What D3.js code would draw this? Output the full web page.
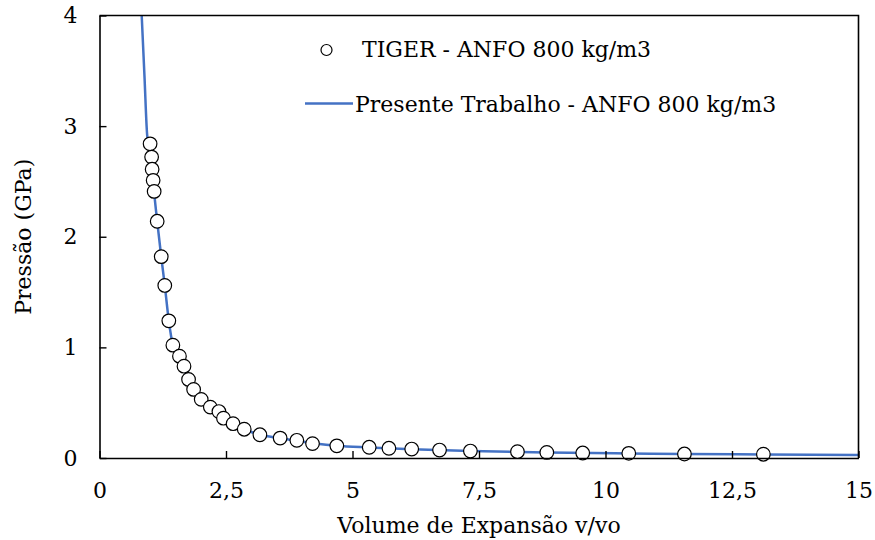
<!DOCTYPE html>
<html>
<head>
<meta charset="utf-8">
<script src="https://cdn.jsdelivr.net/npm/d3@7"></script>
<style>
  html, body { margin: 0; padding: 0; background: #fff; }
  svg { display: block; font-family: "DejaVu Serif", "Liberation Serif", serif; }
</style>
</head>
<body>
<svg id="chart" width="875" height="540"></svg>
<script>
// TIGER reference points: expansion volume v/vo and pressure (GPa)
const tigerV = [1.00, 1.03, 1.04, 1.06, 1.08, 1.14, 1.22, 1.29, 1.37, 1.45,
                1.58, 1.67, 1.76, 1.86, 2.01, 2.19, 2.36, 2.45, 2.64, 2.86,
                3.17, 3.57, 3.90, 4.21, 4.69, 5.33, 5.72, 6.17, 6.72, 7.33,
                8.26, 8.84, 9.55, 10.46, 11.56, 13.12];
const tigerP = [2.84, 2.72, 2.61, 2.51, 2.41, 2.14, 1.82, 1.56, 1.24, 1.02,
                0.92, 0.83, 0.71, 0.62, 0.53, 0.46, 0.42, 0.36, 0.31, 0.26,
                0.21, 0.18, 0.16, 0.13, 0.11, 0.097, 0.088, 0.081, 0.072, 0.063,
                0.057, 0.050, 0.045, 0.042, 0.036, 0.034];

// Curve from the present work
const modelV = [0.834, 0.889, 0.945, 1.00, 1.06, 1.14, 1.22, 1.29, 1.37, 1.45,
                1.58, 1.76, 2.01, 2.36, 2.64, 2.86, 3.17, 3.57, 4.21, 4.69,
                5.33, 6.17, 7.33, 8.84, 10.46, 11.56, 13.12, 15.0];
const modelP = [4.00, 3.45, 2.905, 2.80, 2.49, 2.14, 1.82, 1.56, 1.24, 1.02,
                0.90, 0.71, 0.53, 0.40, 0.31, 0.26, 0.21, 0.18, 0.135, 0.11,
                0.095, 0.080, 0.064, 0.050, 0.041, 0.036, 0.032, 0.027];

const xTicks = [0, 2.5, 5, 7.5, 10, 12.5, 15];
const yTicks = [0, 1, 2, 3, 4];

const seriesNames = ["TIGER - ANFO 800 kg/m3", "Presente Trabalho - ANFO 800 kg/m3"];
const xTitle = "Volume de Expansão v/vo";
const yTitle = "Pressão (GPa)";

const FONT = "22px";
const FAMILY = "'DejaVu Serif', 'Liberation Serif', serif";

const svg = d3.select("#chart");
const margin = { left: 99.5, right: 16.5, top: 15.5, bottom: 82 };
const W = 875, H = 540;
const plotW = W - margin.left - margin.right;
const plotH = H - margin.top - margin.bottom;

const x = d3.scaleLinear().domain([0, 15]).range([margin.left, margin.left + plotW]);
const y = d3.scaleLinear().domain([0, 4]).range([margin.top + plotH, margin.top]);

const fmt = d => String(d).replace(".", ",");

// clip the curve to the plotting area
svg.append("clipPath").attr("id", "plotClip")
  .append("rect")
  .attr("x", margin.left).attr("y", margin.top)
  .attr("width", plotW).attr("height", plotH);

// model curve
const lineGen = d3.line()
  .x(i => x(modelV[i]))
  .y(i => y(modelP[i]))
  .curve(d3.curveMonotoneX);

svg.append("path")
  .attr("clip-path", "url(#plotClip)")
  .attr("d", lineGen(d3.range(modelV.length)))
  .attr("fill", "none")
  .attr("stroke", "#4472C4")
  .attr("stroke-width", 2.5);

// TIGER points
svg.append("g")
  .selectAll("circle")
  .data(d3.range(tigerV.length))
  .join("circle")
  .attr("cx", i => x(tigerV[i]))
  .attr("cy", i => y(tigerP[i]))
  .attr("r", 6.8)
  .attr("fill", "#fff")
  .attr("stroke", "#000")
  .attr("stroke-width", 1.2);

// axes with inward ticks
const xAxis = d3.axisBottom(x).tickValues(xTicks).tickSizeInner(-7).tickSizeOuter(0)
  .tickPadding(24).tickFormat(fmt);
const yAxis = d3.axisLeft(y).tickValues(yTicks).tickSizeInner(-7).tickSizeOuter(0)
  .tickPadding(22).tickFormat(fmt);

const gx = svg.append("g")
  .attr("transform", `translate(0,${margin.top + plotH})`)
  .call(xAxis);
const gy = svg.append("g")
  .attr("transform", `translate(${margin.left},0)`)
  .call(yAxis);

[gx, gy].forEach(g => {
  g.attr("font-family", null).attr("font-size", null);
  g.select(".domain").attr("stroke", "#000").attr("stroke-width", 1.6);
  g.selectAll(".tick line").attr("stroke", "#000").attr("stroke-width", 1.4);
  g.selectAll(".tick text")
    .attr("fill", "#000")
    .style("font-family", FAMILY)
    .style("font-size", FONT);
});
gx.selectAll(".tick text").attr("dy", "0.71em");

// box: top and right edges
svg.append("path")
  .attr("d", `M${margin.left},${margin.top}H${margin.left + plotW}V${margin.top + plotH}`)
  .attr("fill", "none")
  .attr("stroke", "#000")
  .attr("stroke-width", 1.6);

// axis titles
svg.append("text")
  .attr("x", margin.left + plotW / 2)
  .attr("y", 533)
  .attr("text-anchor", "middle")
  .style("font-family", FAMILY)
  .style("font-size", FONT)
  .text(xTitle);

svg.append("text")
  .attr("transform", `translate(31,${margin.top + plotH / 2}) rotate(-90)`)
  .attr("text-anchor", "middle")
  .style("font-family", FAMILY)
  .style("font-size", FONT)
  .text(yTitle);

// legend
const lg = svg.append("g").style("font-family", FAMILY).style("font-size", FONT);
lg.append("circle")
  .attr("cx", 326.5).attr("cy", 50).attr("r", 5.5)
  .attr("fill", "#fff").attr("stroke", "#000").attr("stroke-width", 1.2);
lg.append("text")
  .attr("x", 362).attr("y", 57)
  .text(seriesNames[0]);
lg.append("line")
  .attr("x1", 305).attr("x2", 353).attr("y1", 103.5).attr("y2", 103.5)
  .attr("stroke", "#4472C4").attr("stroke-width", 2.5);
lg.append("text")
  .attr("x", 355).attr("y", 111.5)
  .text(seriesNames[1]);
</script>
</body>
</html>
